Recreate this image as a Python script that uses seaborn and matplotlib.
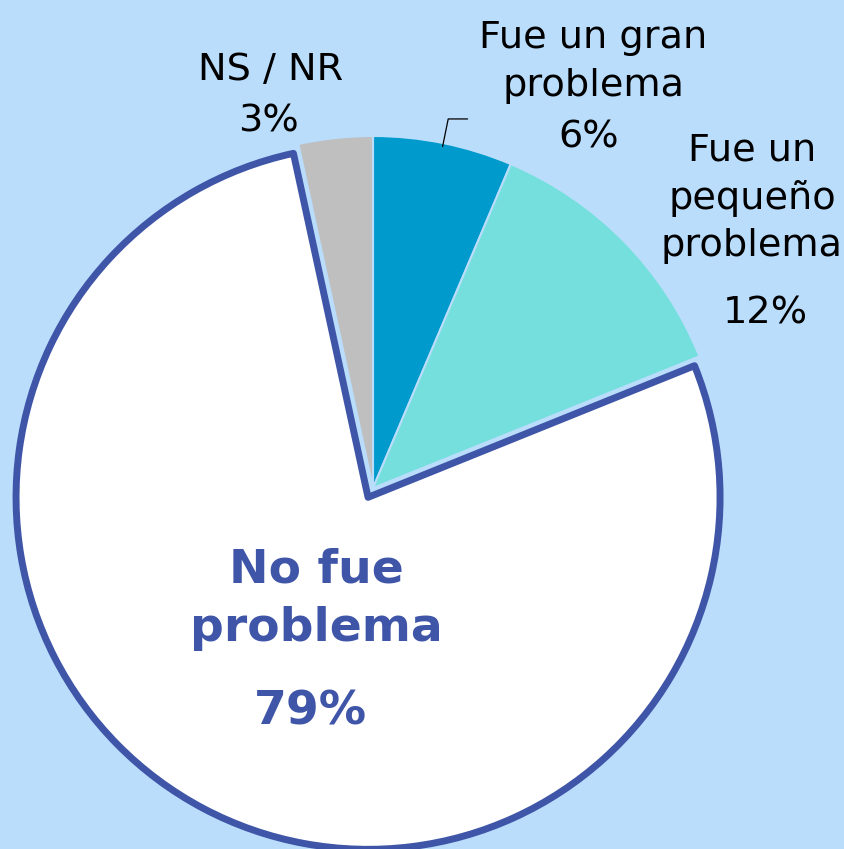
import numpy as np
import matplotlib
matplotlib.use("Agg")
import matplotlib.pyplot as plt
import seaborn as sns

# ---- data ----
categories = ["Fue un gran\nproblema", "Fue un\npequeño\nproblema", "No fue\nproblema", "NS / NR"]
shares = [6.4, 12.5, 77.7, 3.4]          # wedge sizes as drawn
pct_labels = ["6%", "12%", "79%", "3%"]  # printed labels

# ---- style ----
sns.set_theme(style="white")
plt.rcParams['font.family'] = ['DejaVu Sans']
bg = "#BADDFC"
colors = sns.color_palette(["#009ACC", "#74DFDC", "#FFFFFF", "#BFBFBF"])
border = "#3F55A8"

W, H = 844, 849
CX, CY, R = 373, 488, 352   # pixel centre/radius of the pie

fig = plt.figure(figsize=(W / 100, H / 100), dpi=100)
fig.patch.set_facecolor(bg)
ax = fig.add_axes([0, 0, 1, 1])
ax.set_facecolor(bg)

explode = [0, 0, 0.03, 0]
wedges, _ = ax.pie(shares, colors=colors, startangle=90, counterclock=False,
                   explode=explode, radius=1.0,
                   wedgeprops=dict(edgecolor=bg, linewidth=1.5))
wedges[2].set_edgecolor(border)
wedges[2].set_linewidth(5)
wedges[2].set_joinstyle("round")
wedges[2].set_zorder(5)

ax.set_xlim(-CX / R, (W - CX) / R)
ax.set_ylim(-(H - CY) / R, CY / R)
ax.set_aspect("equal", adjustable="datalim")
ax.axis("off")


def px(x, y):
    return (x - CX) / R, (CY - y) / R


# label anchor positions (pixel coords of text centres)
name_pos = [(593, 62), (752, 198), (316, 599), (271, 70)]
pct_pos = [(589, 138), (765, 313), (310, 712), (268, 122)]

for i in range(4):
    bold = (i == 2)
    col = border if bold else "black"
    fs = 34 if bold else 27.5
    ls = 1.38 if bold else 1.4
    ax.text(*px(*name_pos[i]), categories[i], ha="center", va="center",
            fontsize=fs, color=col, fontweight="bold" if bold else "normal",
            linespacing=ls, zorder=10)
    ax.text(*px(*pct_pos[i]), pct_labels[i], ha="center", va="center",
            fontsize=fs, color=col, fontweight="bold" if bold else "normal",
            zorder=10)

# leader line for the first wedge
w0 = wedges[0]
mid = np.deg2rad((w0.theta1 + w0.theta2) / 2)
r_in, r_out = 0.99, 1.07
x0, y0 = r_in * np.cos(mid), r_in * np.sin(mid)
x1, y1 = r_out * np.cos(mid), r_out * np.sin(mid)
ax.plot([x0, x1, x1 + 0.055], [y0, y1, y1], color="black", lw=0.9, zorder=6)

fig.savefig("out.png", dpi=100, facecolor=bg)
